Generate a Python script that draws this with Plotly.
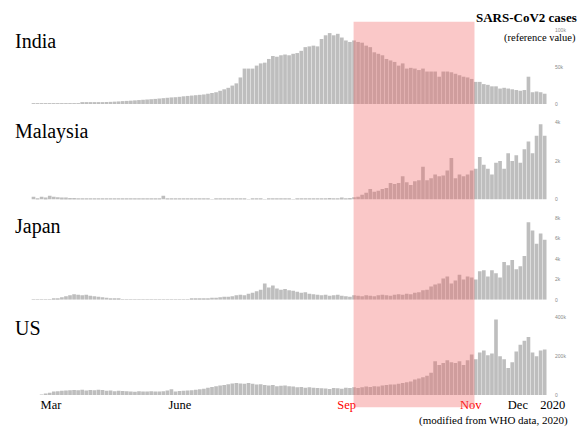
import plotly.graph_objects as go

# ---------------- data (thousands of cases, one bar per ~2.5 days) ----------------
india = [0.1,0.1,0.1,0.2,0.2,0.3,0.4,0.5,0.6,0.8,1.0,
         1.2,1.4,1.5,1.7,2.0,2.2,2.5,2.8,3.0,3.3,
         3.6,4.0,4.3,4.6,5.0,5.4,5.8,6.2,6.6,7.0,
         7.5,8.0,8.5,9.0,9.3,9.8,10.5,11,11.5,12,
         12.5,13,14,15,16,18,20,22,25,28,
         36,48,48,48,52,55,56,61,65,64,
         66,67,66,68,69,72,77,78,79,78,
         88,93,96,93,95,90,86,84,86,84,
         83,79,77,70,68,66,61,59,57,52,
         55,48,49,48,46,48,44,44,44,37,
         44,44,43,41,39,37,36,34,30,30,
         27,26,24,24,21,22,21,20,19,18,
         19,37,16,17,16,14]

malaysia = [0.15,0.05,0.15,0.1,0.2,0.15,0.12,0.1,0.1,0.08,0.08,
            0.06,0.05,0.04,0.05,0.03,0.04,0.03,0.03,0.02,0.03,
            0.02,0.03,0.02,0.02,0.03,0.02,0.04,0.02,0.03,0.05,
            0.05,0.2,0.05,0.03,0.02,0.04,0.02,0.02,0.03,0.02,
            0.02,0.03,0.02,0.01,0.02,0.02,0.03,0.02,0.02,0.02,
            0.02,0.02,0.01,0.02,0.02,0.02,0.01,0.02,0.02,0.02,
            0.02,0.02,0.02,0.01,0.02,0.02,0.02,0.03,0.02,0.02,
            0.03,0.06,0.08,0.05,0.07,0.1,0.06,0.08,0.12,0.15,
            0.25,0.35,0.55,0.4,0.45,0.55,0.6,0.85,0.8,0.85,
            1.2,0.9,0.75,0.95,1.0,1.7,1.0,1.1,1.3,1.2,
            1.25,1.5,2.15,1.1,1.3,1.2,1.3,1.5,1.6,2.2,
            1.8,1.6,1.3,1.9,2.0,1.6,2.4,2.0,2.3,1.9,
            2.6,3.0,2.4,3.3,3.9,3.3]

japan = [0.01,0.02,0.02,0.04,0.05,0.1,0.15,0.25,0.35,0.45,0.55,
         0.5,0.45,0.5,0.4,0.35,0.3,0.25,0.2,0.15,0.08,
         0.06,0.05,0.04,0.04,0.03,0.03,0.03,0.02,0.03,0.03,
         0.03,0.04,0.03,0.04,0.04,0.05,0.05,0.05,0.06,0.08,
         0.1,0.12,0.15,0.2,0.2,0.25,0.3,0.3,0.35,0.45,
         0.5,0.45,0.6,0.7,0.85,1.0,1.6,1.2,1.4,1.1,
         1.0,1.05,0.95,0.9,0.8,0.7,0.75,0.6,0.55,0.5,
         0.45,0.5,0.4,0.45,0.5,0.4,0.35,0.3,0.45,0.4,
         0.35,0.45,0.4,0.35,0.45,0.5,0.45,0.4,0.5,0.55,
         0.5,0.6,0.55,0.7,0.75,0.95,1.0,1.3,1.5,1.6,
         2.1,2.3,1.6,1.9,2.45,2.0,2.3,2.2,2.0,2.8,
         2.9,2.3,2.9,2.6,2.2,3.7,3.4,3.9,3.0,3.3,
         4.3,7.6,6.8,5.5,6.5,5.9]

us = [0,0,1,5,12,18,20,22,24,25,26,
      25,27,24,26,25,28,26,22,24,20,
      22,21,20,18,17,20,19,18,20,19,
      18,20,24,30,19,21,22,24,25,28,
      30,33,38,42,46,50,52,56,60,62,
      60,58,62,58,55,56,52,50,52,46,
      48,50,45,44,40,42,38,40,38,36,
      35,34,32,36,35,33,38,36,40,37,
      40,44,42,46,44,50,52,55,54,58,
      62,66,70,80,85,92,100,115,175,155,
      165,180,170,165,175,155,180,210,185,220,
      230,205,215,390,200,185,140,170,225,260,
      280,300,220,200,230,235]

countries = ["India", "Malaysia", "Japan", "US"]
series = [india, malaysia, japan, us]
y_tops = [100, 4, 8, 400]
y_tickvals = [[0, 50, 100], [0, 2, 4], [0, 2, 4, 6, 8], [0, 200, 400]]
y_ticktext = [["0", "50k", "100k"], ["0", "2k", "4k"], ["0", "2k", "4k", "6k", "8k"],
              ["0", "200k", "400k"]]
x_tick_labels = ["Mar", "June", "Sep", "Nov", "Dec", "2020"]
x_tick_colors = ["black", "black", "red", "red", "black", "black"]
x_tick_pos = [4.3, 36.1, 77.2, 107.8, 119.4, 128.0]
highlight = (78.9, 108.7)   # Sep .. Nov window

# ---------------- layout helpers ----------------
W, H = 582, 432
def py(px):
    return 1 - px / H

domains = [(py(102.5), py(27.5)), (py(199.3), py(121)), (py(301), py(218.3)), (py(397.6), py(319))]
label_y = [38.5, 130, 227, 330]

fig = go.Figure()
for k, (name, vals) in enumerate(zip(countries, series)):
    fig.add_trace(go.Bar(
        x=list(range(len(vals))), y=vals, name=name,
        xaxis="x", yaxis="y" if k == 0 else f"y{k+1}",
        marker=dict(color="#BEBEBE", line=dict(width=0)),
        hoverinfo="skip",
    ))

px_per_bar = 4.057
first_px = 33.5
r0 = -first_px / px_per_bar
r1 = r0 + W / px_per_bar

layout = dict(
    width=W, height=H, margin=dict(l=0, r=0, t=0, b=0),
    paper_bgcolor="white", plot_bgcolor="white", showlegend=False,
    bargap=0.1,
    xaxis=dict(domain=[0, 1], range=[r0, r1], anchor="y4",
               tickvals=x_tick_pos,
               ticktext=[f'<span style="color:{c}">{t}</span>' for t, c in zip(x_tick_labels, x_tick_colors)],
               tickfont=dict(family="Liberation Serif", size=12.5, color="black"),
               showgrid=False, zeroline=False, showline=False, ticks=""),
)
for k in range(4):
    key = "yaxis" if k == 0 else f"yaxis{k+1}"
    layout[key] = dict(domain=list(domains[k]), range=[0, y_tops[k]],
                       anchor="free", position=0.952, side="right",
                       tickvals=y_tickvals[k], ticktext=y_ticktext[k],
                       tickfont=dict(family="Liberation Sans", size=5, color="#8a8a8a"),
                       showgrid=False, zeroline=False, showline=False, ticks="")
fig.update_layout(**layout)

annotations = []
for name, ly in zip(countries, label_y):
    annotations.append(dict(text=name, x=13 / W, y=py(ly), xref="paper", yref="paper",
                            xanchor="left", yanchor="middle", showarrow=False,
                            font=dict(family="Liberation Serif", size=20, color="black")))
annotations.append(dict(text="<b>SARS-CoV2 cases</b>", x=579 / W, y=py(15), xref="paper", yref="paper",
                        xanchor="right", yanchor="middle", showarrow=False,
                        font=dict(family="Liberation Serif", size=13, color="black")))
annotations.append(dict(text="(reference value)", x=578 / W, y=py(35.5), xref="paper", yref="paper",
                        xanchor="right", yanchor="middle", showarrow=False,
                        font=dict(family="Liberation Serif", size=10.5, color="black")))
annotations.append(dict(text="(modified from WHO data, 2020)", x=570 / W, y=py(423), xref="paper", yref="paper",
                        xanchor="right", yanchor="middle", showarrow=False,
                        font=dict(family="Liberation Serif", size=11, color="black")))
fig.update_layout(annotations=annotations)

fig.add_shape(type="rect", xref="x", yref="paper", x0=highlight[0], x1=highlight[1],
              y0=py(410), y1=py(19), fillcolor="rgba(240,98,98,0.35)",
              line=dict(width=0), layer="above")

fig.write_html("out.html", config={"displayModeBar": False},
               post_script="document.body.style.margin='0';document.body.style.overflow='hidden';")
